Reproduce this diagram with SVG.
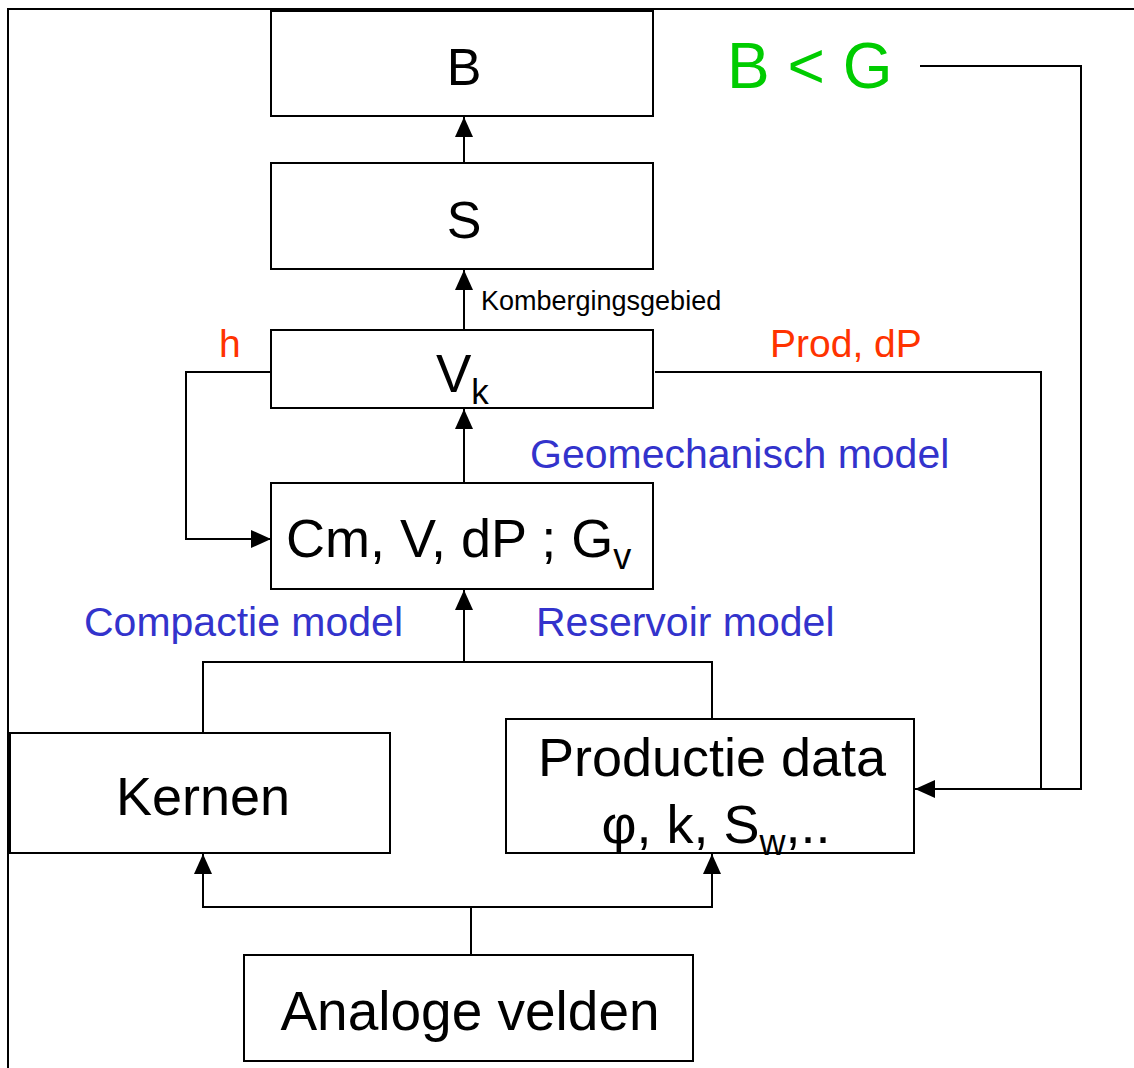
<svg xmlns="http://www.w3.org/2000/svg" width="1134" height="1068" viewBox="0 0 1134 1068">
<style>
.box{fill:#fff;stroke:#000;stroke-width:2}
.ln{fill:none;stroke:#000;stroke-width:2}
.t{font-family:"Liberation Sans",Arial,sans-serif;fill:#000}
.blue{font-family:"Liberation Sans",Arial,sans-serif;fill:#3333cc;font-size:41px}
.red{font-family:"Liberation Sans",Arial,sans-serif;fill:#ff3300;font-size:39px}
</style>
<defs>
<marker id="arr" markerUnits="userSpaceOnUse" markerWidth="20" markerHeight="18" refX="20" refY="9" orient="auto">
<path d="M0,0 L20,9 L0,18 z" fill="#000"/>
</marker>
</defs>
<rect width="1134" height="1068" fill="#fff"/>
<path class="ln" d="M8,1068 V9 H1134"/>
<g id="connectors">
<line class="ln" x1="464" y1="163" x2="464" y2="117" marker-end="url(#arr)"/>
<line class="ln" x1="464" y1="330" x2="464" y2="270" marker-end="url(#arr)"/>
<line class="ln" x1="464" y1="483" x2="464" y2="409" marker-end="url(#arr)"/>
<path class="ln" d="M271,372 H186 V539 H271" marker-end="url(#arr)"/>
<path class="ln" d="M655,372 H1041 V789 H915" marker-end="url(#arr)"/>
<path class="ln" d="M920,66 H1081 V789 H1041"/>
<path class="ln" d="M203,733 V662 H712 V719"/>
<line class="ln" x1="464" y1="662" x2="464" y2="590" marker-end="url(#arr)"/>
<path class="ln" d="M471,955 V907"/>
<path class="ln" d="M471,907 H203 V854" marker-end="url(#arr)"/>
<path class="ln" d="M471,907 H712 V854" marker-end="url(#arr)"/>
</g>
<g id="node-B">
<rect class="box" x="271" y="11" width="382" height="105"/>
<text class="t" x="464" y="85" font-size="52" text-anchor="middle">B</text>
</g>
<g id="node-S">
<rect class="box" x="271" y="163" width="382" height="106"/>
<text class="t" x="464" y="238" font-size="52" text-anchor="middle">S</text>
</g>
<g id="node-Vk">
<rect class="box" x="271" y="330" width="382" height="78"/>
<text class="t" x="436" y="392" font-size="53">V<tspan font-size="35" dy="12">k</tspan></text>
</g>
<g id="node-Cm">
<rect class="box" x="271" y="483" width="382" height="106"/>
<text class="t" x="286" y="557" font-size="54">Cm, V, dP ; G<tspan font-size="36" dy="12">v</tspan></text>
</g>
<g id="node-Kernen">
<rect class="box" x="10" y="733" width="380" height="120"/>
<text class="t" x="203" y="815" font-size="54" text-anchor="middle">Kernen</text>
</g>
<g id="node-Productie">
<rect class="box" x="506" y="719" width="408" height="134"/>
<text class="t" x="712" y="776" font-size="54" text-anchor="middle">Productie data</text>
<text class="t" x="716" y="843" font-size="54" text-anchor="middle">φ, k, S<tspan font-size="36" dy="12">w</tspan><tspan dy="-12">,..</tspan></text>
</g>
<g id="node-Analoge">
<rect class="box" x="244" y="955" width="449" height="106"/>
<text class="t" x="470" y="1030" font-size="55" text-anchor="middle">Analoge velden</text>
</g>
<g id="labels">
<text x="727" y="88" font-family="Liberation Sans, Arial, sans-serif" font-size="64" fill="#00cc00">B &lt; G</text>
<text class="t" x="481" y="310" font-size="27">Kombergingsgebied</text>
<text class="red" x="219" y="357">h</text>
<text class="red" x="770" y="357">Prod, dP</text>
<text class="blue" x="530" y="468">Geomechanisch model</text>
<text class="blue" x="84" y="636">Compactie model</text>
<text class="blue" x="536" y="636">Reservoir model</text>
</g>
</svg>
